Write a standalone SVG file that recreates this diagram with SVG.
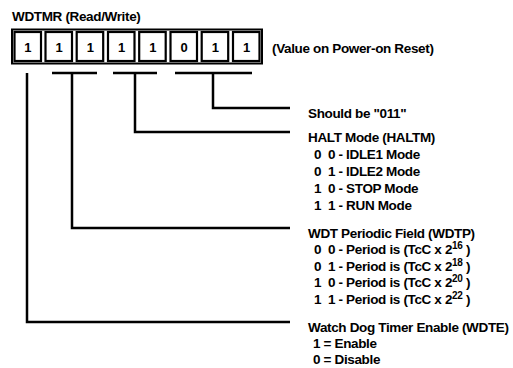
<svg xmlns="http://www.w3.org/2000/svg" width="513" height="368" viewBox="0 0 513 368">
<style>
text{font-family:"Liberation Sans",Arial,sans-serif;font-weight:bold;font-size:13.5px;letter-spacing:-0.35px;fill:#000}
.sup{font-size:10px}
.ln{fill:none;stroke:#000;stroke-width:2.5}
.cell{fill:#fff;stroke:#000;stroke-width:2.2}
.bit{text-anchor:middle;font-size:13px}
</style>
<rect width="513" height="368" fill="#fff"/>
<g id="title"><text x="12" y="21">WDTMR (Read/Write)</text></g>
<g id="register">
<rect x="12" y="29.5" width="250" height="34" fill="none" stroke="#000" stroke-width="2"/>
<rect class="cell" x="14.5" y="32" width="26.5" height="29"/>
<rect class="cell" x="45.5" y="32" width="26.5" height="29"/>
<rect class="cell" x="76.7" y="32" width="26.5" height="29"/>
<rect class="cell" x="108" y="32" width="26.5" height="29"/>
<rect class="cell" x="139.2" y="32" width="26.5" height="29"/>
<rect class="cell" x="170.5" y="32" width="26.5" height="29"/>
<rect class="cell" x="201.7" y="32" width="26.5" height="29"/>
<rect class="cell" x="233" y="32" width="26.5" height="29"/>
<text class="bit" x="27.7" y="52">1</text>
<text class="bit" x="58.9" y="52">1</text>
<text class="bit" x="90.1" y="52">1</text>
<text class="bit" x="121.4" y="52">1</text>
<text class="bit" x="152.6" y="52">1</text>
<text class="bit" x="183.9" y="52">0</text>
<text class="bit" x="215.1" y="52">1</text>
<text class="bit" x="246.4" y="52">1</text>
<text x="272" y="53">(Value on Power-on Reset)</text>
</g>
<g id="connectors">
<path class="ln" d="M27 73 V322 H290"/>
<path class="ln" d="M52 73 H97 M72 73 V228 H290"/>
<path class="ln" d="M113 73 H157 M135 73 V132 H290"/>
<path class="ln" d="M175 73 H252 M213 73 V108 H290"/>
</g>
<g id="should-be"><text x="308" y="118">Should be "011"</text></g>
<g id="haltm">
<text x="308" y="142">HALT Mode (HALTM)</text>
<text x="314" y="158.5">0</text><text x="328" y="158.5">0 - IDLE1 Mode</text>
<text x="314" y="175.5">0</text><text x="328" y="175.5">1 - IDLE2 Mode</text>
<text x="314" y="192.5">1</text><text x="328" y="192.5">0 - STOP Mode</text>
<text x="314" y="209.5">1</text><text x="328" y="209.5">1 - RUN Mode</text>
</g>
<g id="wdtp">
<text x="308" y="237.5">WDT Periodic Field (WDTP)</text>
<text x="314" y="254">0</text><text x="328" y="254">0 - Period is (TcC x 2<tspan class="sup" dy="-5">16</tspan><tspan dy="5"> )</tspan></text>
<text x="314" y="270.5">0</text><text x="328" y="270.5">1 - Period is (TcC x 2<tspan class="sup" dy="-5">18</tspan><tspan dy="5"> )</tspan></text>
<text x="314" y="287">1</text><text x="328" y="287">0 - Period is (TcC x 2<tspan class="sup" dy="-5">20</tspan><tspan dy="5"> )</tspan></text>
<text x="314" y="303.5">1</text><text x="328" y="303.5">1 - Period is (TcC x 2<tspan class="sup" dy="-5">22</tspan><tspan dy="5"> )</tspan></text>
</g>
<g id="wdte">
<text x="308" y="332">Watch Dog Timer Enable (WDTE)</text>
<text x="313" y="348">1 = Enable</text>
<text x="313" y="364">0 = Disable</text>
</g>
</svg>
